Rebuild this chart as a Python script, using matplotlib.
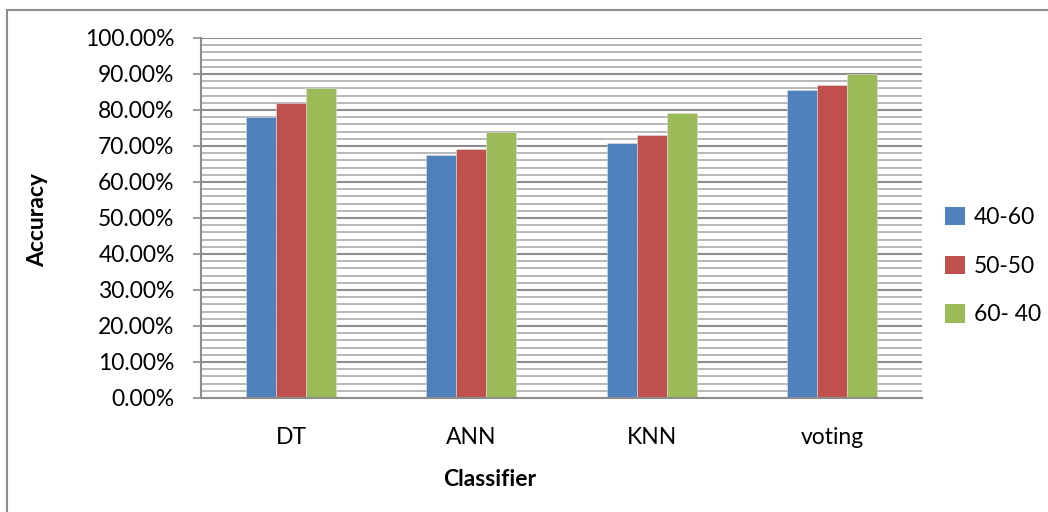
import matplotlib
matplotlib.use("Agg")
import matplotlib.pyplot as plt
from matplotlib.lines import Line2D
from matplotlib.patches import Patch
import numpy as np

categories = ["DT", "ANN", "KNN", "voting"]
series_names = ["40-60", "50-50", "60- 40"]
s_40_60 = [78.1, 67.6, 70.8, 85.5]
s_50_50 = [82.0, 69.3, 73.0, 87.0]
s_60_40 = [86.1, 73.8, 79.2, 89.9]
colors = ["#4F81BD", "#C0504D", "#9BBB59"]
yticks = [0, 10, 20, 30, 40, 50, 60, 70, 80, 90, 100]
ytick_labels = [f"{v:.2f}%" for v in yticks]

plt.rcParams['font.family'] = ['Lato', 'DejaVu Sans']
FS = 16.5

W, H = 1048, 512
fig = plt.figure(figsize=(W / 100, H / 100), dpi=100)
ax = fig.add_axes([201 / W, (H - 398) / H, 721 / W, 360 / H])

x = np.arange(len(categories))
bw = 1 / 6
for i, (vals, c) in enumerate(zip([s_40_60, s_50_50, s_60_40], colors)):
    ax.bar(x + (i - 1) * bw, vals, width=bw, color=c, edgecolor="#dddddd",
           linewidth=0.4, zorder=3)

ax.set_xlim(-0.5, len(categories) - 0.5)
ax.set_ylim(0, 100)
ax.set_yticks(yticks)
ax.set_yticklabels(ytick_labels, fontsize=FS)
ax.set_yticks(np.arange(0, 101, 2), minor=True)
ax.set_xticks(x)
ax.set_xticklabels(categories, fontsize=FS)

ax.grid(axis='y', which='minor', color="#b8b8b8", linewidth=1.4, zorder=1)
ax.grid(axis='y', which='major', color="#8c8c8c", linewidth=1.5, zorder=1)
ax.tick_params(axis='y', which='major', direction='out', length=6, width=1.2,
               color="#8c8c8c", pad=13)
ax.tick_params(axis='y', which='minor', length=0)
ax.tick_params(axis='x', length=0, pad=21)

for s in ["top", "right"]:
    ax.spines[s].set_visible(False)
for s in ["left", "bottom"]:
    ax.spines[s].set_color("#8c8c8c")
    ax.spines[s].set_linewidth(1.5)
    ax.spines[s].set_zorder(4)

fig.text(38 / W, 1 - 220 / H, "Accuracy", rotation=90, ha='center', va='center',
         fontsize=FS, fontweight='bold')
fig.text(490 / W, 1 - 480 / H, "Classifier", ha='center', va='center',
         fontsize=FS, fontweight='bold')

handles = [Patch(facecolor=c, edgecolor='none') for c in colors]
fig.legend(handles, series_names, loc='upper left',
           bbox_to_anchor=(936 / W, 1 - 198 / H), frameon=False,
           fontsize=FS, handlelength=0.85, handleheight=0.85,
           handletextpad=0.4, labelspacing=1.2, borderaxespad=0)

# chart area border (left and top visible)
fig.add_artist(Line2D([7 / W, 7 / W], [0, 1 - 10 / H], transform=fig.transFigure,
                      color="#8c8c8c", linewidth=1.5))
fig.add_artist(Line2D([7 / W, 1], [1 - 10 / H, 1 - 10 / H], transform=fig.transFigure,
                      color="#8c8c8c", linewidth=1.5))

fig.savefig("out.png", dpi=100)
